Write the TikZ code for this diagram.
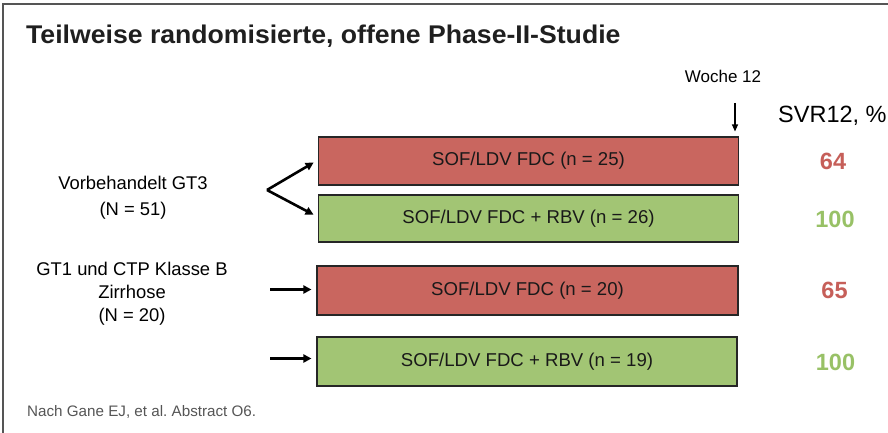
\documentclass[tikz,border=0pt]{standalone}
\usepackage{fontspec}
\setmainfont{Liberation Sans}
\usetikzlibrary{arrows.meta}
\frenchspacing
\definecolor{boxred}{HTML}{C9665F}
\definecolor{boxgreen}{HTML}{A2C574}
\definecolor{txtred}{HTML}{C65F59}
\definecolor{txtgreen}{HTML}{98C166}
\definecolor{framegray}{HTML}{555555}
\definecolor{notegray}{HTML}{555555}
\tikzset{
  armbox/.style={draw=black!85, line width=1.1pt, minimum width=420pt, inner sep=0pt,
    font=\fontsize{18.6}{21}\selectfont, text=black!90},
  redbox/.style={armbox, fill=boxred},
  greenbox/.style={armbox, fill=boxgreen},
  grouplabel/.style={align=center, font=\fontsize{18.4}{26}\selectfont, inner sep=0pt},
  result/.style={anchor=base, inner sep=0pt, font=\bfseries\fontsize{23.5}{26}\selectfont},
  fatarrow/.style={line width=2.6pt, -{Triangle[length=8pt,width=8pt]}, shorten >=5pt},
  thinarrow/.style={line width=1.2pt, -{Triangle[length=7pt,width=6pt]}, shorten >=5pt},
}
\begin{document}
\begin{tikzpicture}[x=1pt,y=-1pt]
\path[use as bounding box] (0,0) rectangle (888,433);
% frame (cropped slide border)
\draw[framegray, line width=1.6pt] (3,433) -- (3,4) -- (888,4);
% title
\node[anchor=base west, inner sep=0pt, text=black!88] (title) at (26,44)
  {\scalebox{1.04}[1]{\bfseries\fontsize{25.6}{28}\selectfont Teilweise randomisierte, offene Phase-II-Studie}};
% arm boxes
\node[redbox, minimum height=48pt] (b1) at (528.5,161) {SOF/LDV FDC (n = 25)};
\node[greenbox, minimum height=47pt] (b2) at (528.5,218.5) {SOF/LDV FDC + RBV (n = 26)};
\node[redbox, minimum height=49pt, minimum width=421pt] (b3) at (527.5,290.5) {SOF/LDV FDC (n = 20)};
\node[greenbox, minimum height=49pt, minimum width=420pt] (b4) at (527,361.5) {SOF/LDV FDC + RBV (n = 19)};
% group labels
\node[grouplabel] (g1) at (133,198) {Vorbehandelt GT3\\(N = 51)};
\node[grouplabel, font=\fontsize{18.4}{23}\selectfont] (g2) at (132,294) {GT1 und CTP Klasse B\\Zirrhose\\(N = 20)};
% arrows
\coordinate (split) at (267,190);
\draw[fatarrow] (split) -- ([yshift=1pt]b1.west);
\draw[fatarrow] (split) -- ([yshift=1.5pt]b2.west);
\coordinate (a3) at (270,289.5);
\coordinate (a4) at (270,358.5);
\draw[fatarrow, line width=3pt] (a3) -- (a3 -| b3.west);
\draw[fatarrow, line width=3pt] (a4) -- (a4 -| b4.west);
% week 12 marker
\node[anchor=base, inner sep=0pt, font=\fontsize{17}{20}\selectfont] (w12) at (723,83) {Woche 12};
\coordinate (w12top) at (735,103);
\draw[thinarrow] (w12top) -- (w12top |- b1.north);
% SVR header and results
\node[anchor=base west, inner sep=0pt, font=\fontsize{23.5}{26}\selectfont] (svr) at (778,122) {SVR12, \%};
\node[result, text=txtred] (r1) at (833,169) {64};
\node[result, text=txtgreen] (r2) at (835,227) {100};
\node[result, text=txtred] (r3) at (834.5,298) {65};
\node[result, text=txtgreen] (r4) at (835.5,370) {100};
% source note
\node[anchor=base west, inner sep=0pt, text=notegray, font=\fontsize{15.2}{18}\selectfont] (note) at (27,416) {Nach Gane EJ, et al. Abstract O6.};
\end{tikzpicture}
\end{document}
